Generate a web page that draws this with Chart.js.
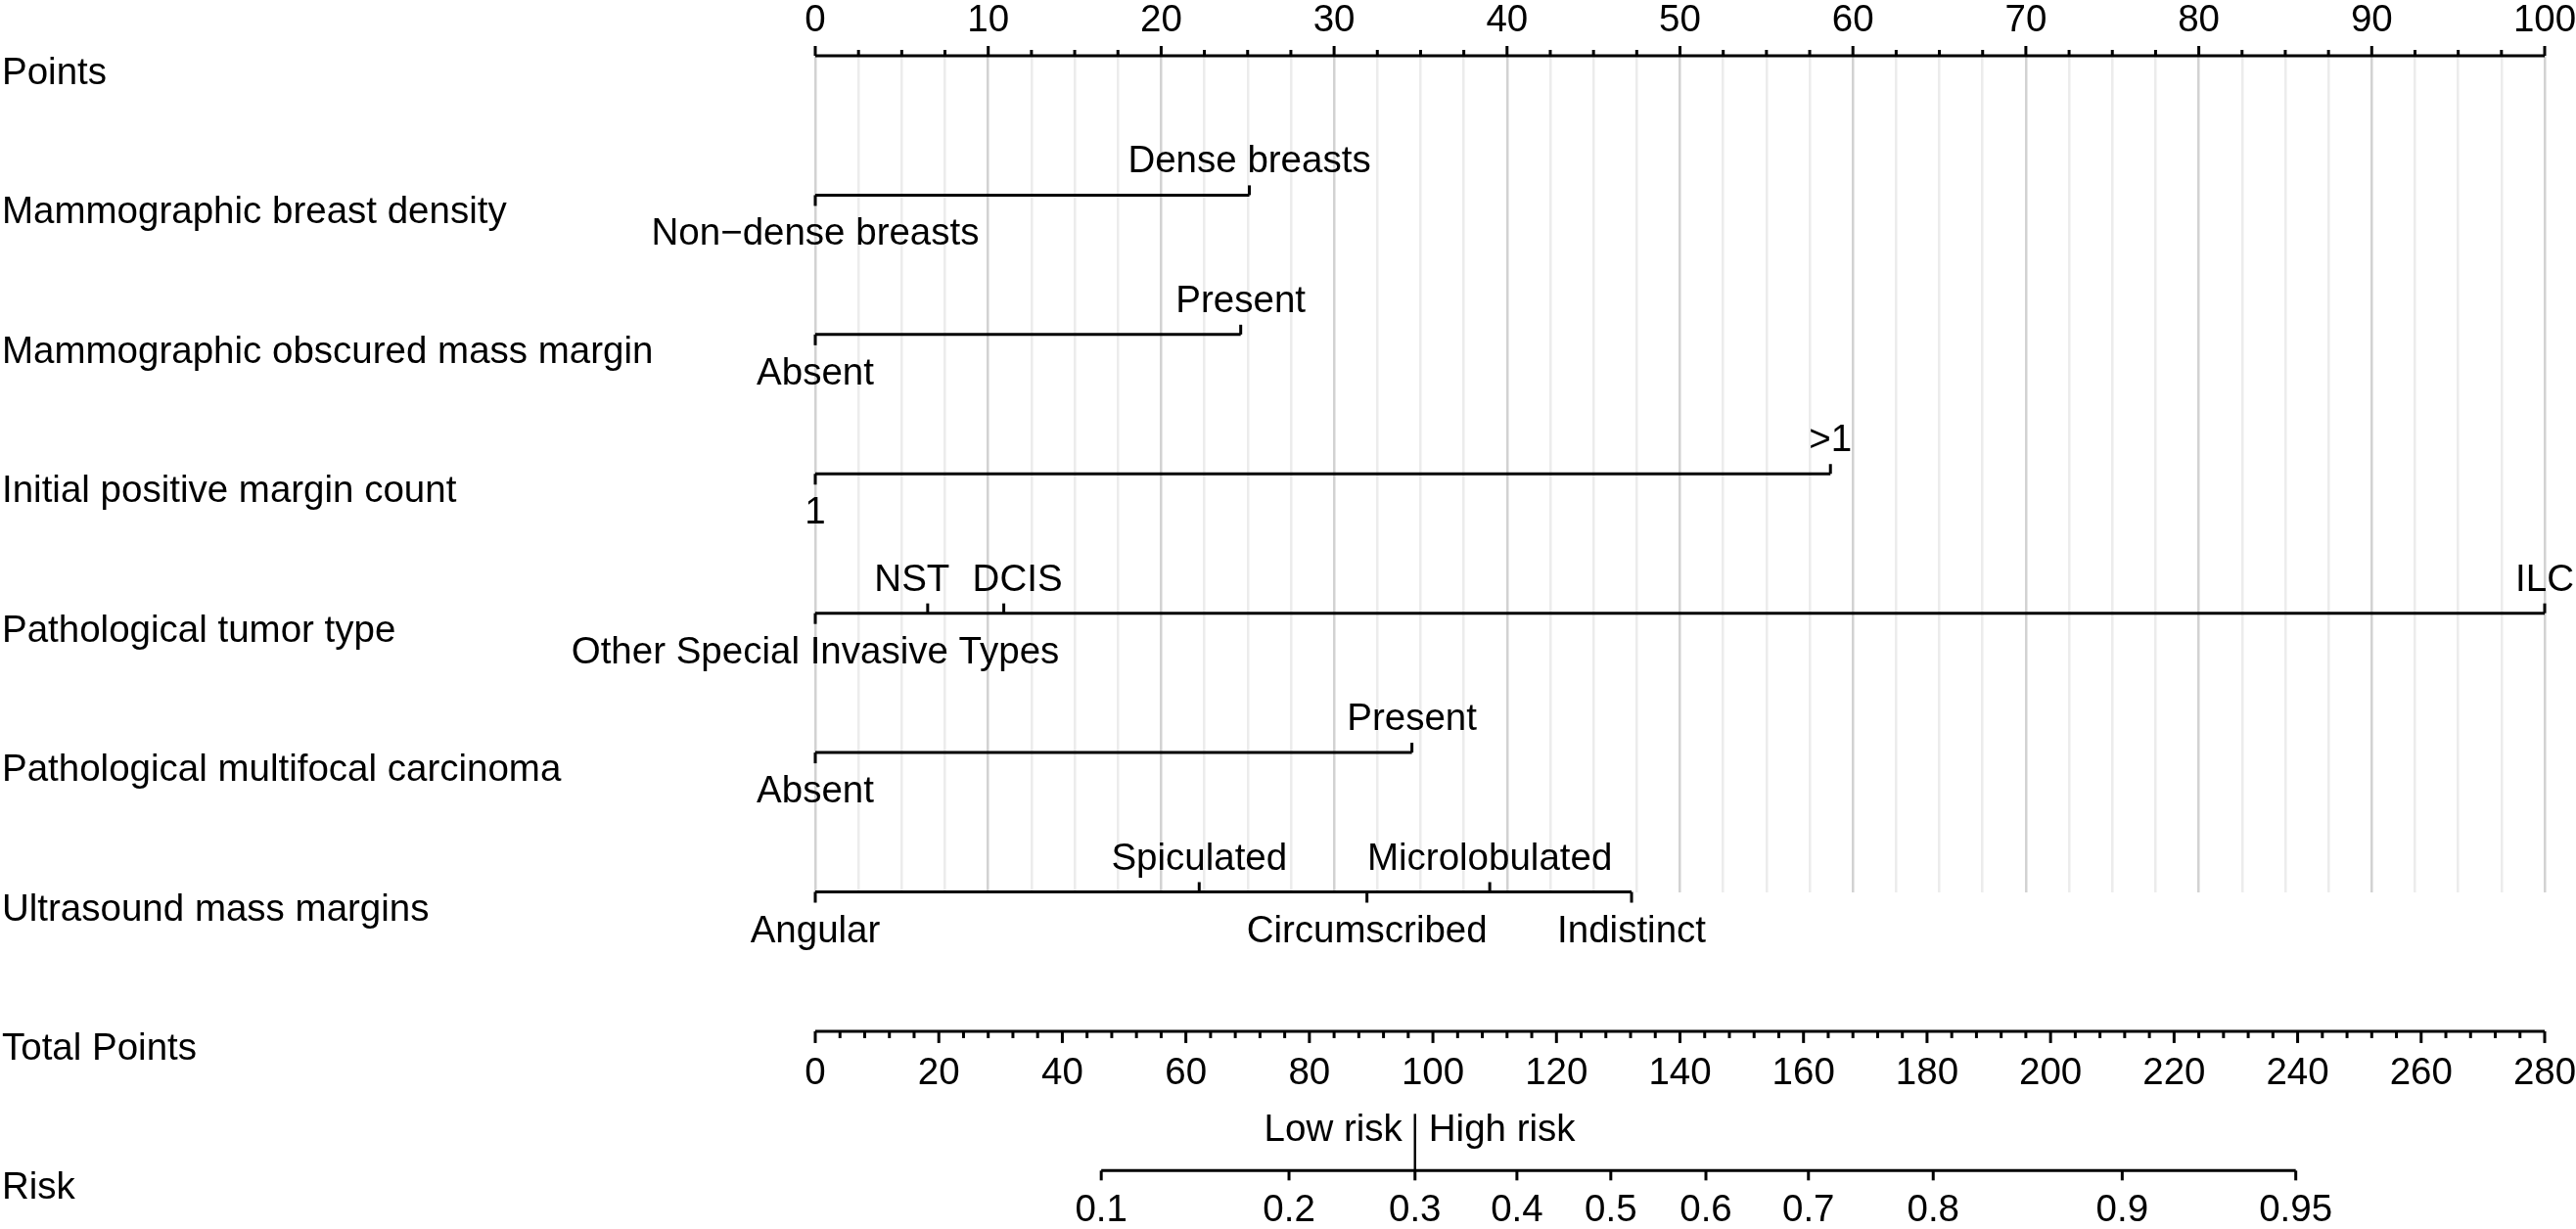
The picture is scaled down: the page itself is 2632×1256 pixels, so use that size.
<!DOCTYPE html>
<html>
<head>
<meta charset="utf-8">
<title>Nomogram</title>
<script src="https://cdn.jsdelivr.net/npm/chart.js@4.4.1/dist/chart.umd.min.js"></script>
<style>
  html, body { margin: 0; padding: 0; background: #fff; }
  #wrap { width: 2632px; height: 1256px; position: relative; }
</style>
</head>
<body>
<div id="wrap"><canvas id="nomogram"></canvas></div>
<script>
// row titles, top to bottom
const rowLabels = [
  'Points',
  'Mammographic breast density',
  'Mammographic obscured mass margin',
  'Initial positive margin count',
  'Pathological tumor type',
  'Pathological multifocal carcinoma',
  'Ultrasound mass margins',
  'Total Points',
  'Risk'
];

// predictor levels and their points (0-100 scale)
const densityLevels = ['Non\u2212dense breasts', 'Dense breasts'];
const densityPoints = [0, 25.1];

const obscuredLevels = ['Absent', 'Present'];
const obscuredPoints = [0, 24.6];

const marginCountLevels = ['1', '>1'];
const marginCountPoints = [0, 58.7];

const tumorLevels = ['Other Special Invasive Types', 'NST', 'DCIS', 'ILC'];
const tumorPoints = [0, 6.5, 10.9, 100];

const multifocalLevels = ['Absent', 'Present'];
const multifocalPoints = [0, 34.5];

const usMarginLevels = ['Angular', 'Spiculated', 'Circumscribed', 'Microlobulated', 'Indistinct'];
const usMarginPoints = [0, 22.2, 31.9, 39.0, 47.2];

// risk scale: probability labels and where they sit on the total points axis
const riskLabels = ['0.1', '0.2', '0.3', '0.4', '0.5', '0.6', '0.7', '0.8', '0.9', '0.95'];
const riskTotals = [46.3, 76.7, 97.1, 113.6, 128.8, 144.2, 160.8, 181.0, 211.6, 239.7];
const cutoffTotal = 97.1;
const cutoffLabels = ['Low risk', 'High risk'];

// label placement (above / below the line) for each level
const densitySide = ['down', 'up'];
const obscuredSide = ['down', 'up'];
const marginCountSide = ['down', 'up'];
const tumorSide = ['down', 'up', 'up', 'up'];
const multifocalSide = ['down', 'up'];
const usMarginSide = ['down', 'up', 'down', 'up', 'down'];
// NST / DCIS labels are pushed apart so they don't collide
const tumorNudge = [0, -16, 14, 0];

const variables = [
  { row: 1, levels: densityLevels, points: densityPoints, side: densitySide },
  { row: 2, levels: obscuredLevels, points: obscuredPoints, side: obscuredSide },
  { row: 3, levels: marginCountLevels, points: marginCountPoints, side: marginCountSide },
  { row: 4, levels: tumorLevels, points: tumorPoints, side: tumorSide, nudge: tumorNudge },
  { row: 5, levels: multifocalLevels, points: multifocalPoints, side: multifocalSide },
  { row: 6, levels: usMarginLevels, points: usMarginPoints, side: usMarginSide }
];

const FONT = '38.5px "Liberation Sans", Arial, Helvetica, sans-serif';

function segment(xAxisID, row, from, to) {
  return {
    xAxisID: xAxisID,
    data: [{ x: from, y: row }, { x: to, y: row }],
    borderColor: '#000',
    borderWidth: 3,
    borderCapStyle: 'butt',
    pointRadius: 0
  };
}

const datasets = [segment('x', 0, 0, 100)];
variables.forEach(v => {
  datasets.push(segment('x', v.row, Math.min(...v.points), Math.max(...v.points)));
});
datasets.push(segment('xTotal', 7, 0, 280));
datasets.push(segment('xTotal', 8, riskTotals[0], riskTotals[riskTotals.length - 1]));

function tick(ctx, px, py, len) {
  ctx.beginPath();
  ctx.moveTo(px, py);
  ctx.lineTo(px, py + len);
  ctx.stroke();
}

const nomogramPlugin = {
  id: 'nomogram',
  afterDatasetsDraw(chart) {
    const { ctx, scales: { x, y, xTotal } } = chart;
    ctx.save();
    ctx.font = FONT;
    ctx.fillStyle = '#000';
    ctx.strokeStyle = '#000';
    ctx.lineWidth = 3;
    ctx.lineCap = 'butt';

    // row titles
    ctx.textAlign = 'left';
    ctx.textBaseline = 'alphabetic';
    rowLabels.forEach((label, i) => {
      ctx.fillText(label, 2, y.getPixelForValue(i) + 29);
    });

    // points axis
    ctx.textAlign = 'center';
    const y0 = y.getPixelForValue(0);
    x.ticks.forEach(t => {
      const px = x.getPixelForValue(t.value);
      const major = Math.abs(t.value % 10) < 1e-6;
      tick(ctx, px, y0, major ? -10 : -6);
      if (major) ctx.fillText(String(Math.round(t.value)), px, y0 - 25);
    });

    // predictor levels
    variables.forEach(v => {
      const py = y.getPixelForValue(v.row);
      v.levels.forEach((name, i) => {
        const px = x.getPixelForValue(v.points[i]);
        const lx = px + (v.nudge ? v.nudge[i] : 0);
        if (v.side[i] === 'up') {
          tick(ctx, px, py, -10);
          ctx.fillText(name, lx, py - 23);
        } else {
          tick(ctx, px, py, 11);
          ctx.fillText(name, lx, py + 51);
        }
      });
    });

    // total points axis
    const y7 = y.getPixelForValue(7);
    xTotal.ticks.forEach(t => {
      const px = xTotal.getPixelForValue(t.value);
      const major = Math.abs(t.value % 20) < 1e-6;
      tick(ctx, px, y7, major ? 12 : 7);
      if (major) ctx.fillText(String(Math.round(t.value)), px, y7 + 54);
    });

    // risk axis
    const y8 = y.getPixelForValue(8);
    riskTotals.forEach((v, i) => {
      const px = xTotal.getPixelForValue(v);
      tick(ctx, px, y8, 10);
      ctx.fillText(riskLabels[i], px, y8 + 52);
    });

    // cut-off
    const cx = xTotal.getPixelForValue(cutoffTotal);
    ctx.lineWidth = 2.5;
    tick(ctx, cx, y8, -58);
    ctx.textAlign = 'right';
    ctx.fillText(cutoffLabels[0], cx - 13, y8 - 30);
    ctx.textAlign = 'left';
    ctx.fillText(cutoffLabels[1], cx + 14, y8 - 30);

    ctx.restore();
  }
};

new Chart(document.getElementById('nomogram'), {
  type: 'line',
  data: { datasets: datasets },
  options: {
    responsive: true,
    maintainAspectRatio: false,
    animation: false,
    events: [],
    layout: { padding: { left: 833, right: 32, top: 57, bottom: 344.5 } },
    datasets: { line: { clip: false } },
    plugins: { legend: { display: false }, tooltip: { enabled: false } },
    scales: {
      x: {
        type: 'linear',
        min: 0,
        max: 100,
        ticks: { stepSize: 2.5, display: false, autoSkip: false },
        border: { display: false },
        grid: {
          drawTicks: false,
          lineWidth: 2.5,
          color: c => (Math.abs(c.tick.value % 10) < 1e-6 ? '#d2d2d2' : '#ececec')
        }
      },
      xTotal: {
        type: 'linear',
        position: 'bottom',
        display: false,
        min: 0,
        max: 280,
        ticks: { stepSize: 4, autoSkip: false }
      },
      y: {
        type: 'linear',
        display: false,
        reverse: true,
        min: 0,
        max: 6
      }
    }
  },
  plugins: [nomogramPlugin]
});
</script>
</body>
</html>
